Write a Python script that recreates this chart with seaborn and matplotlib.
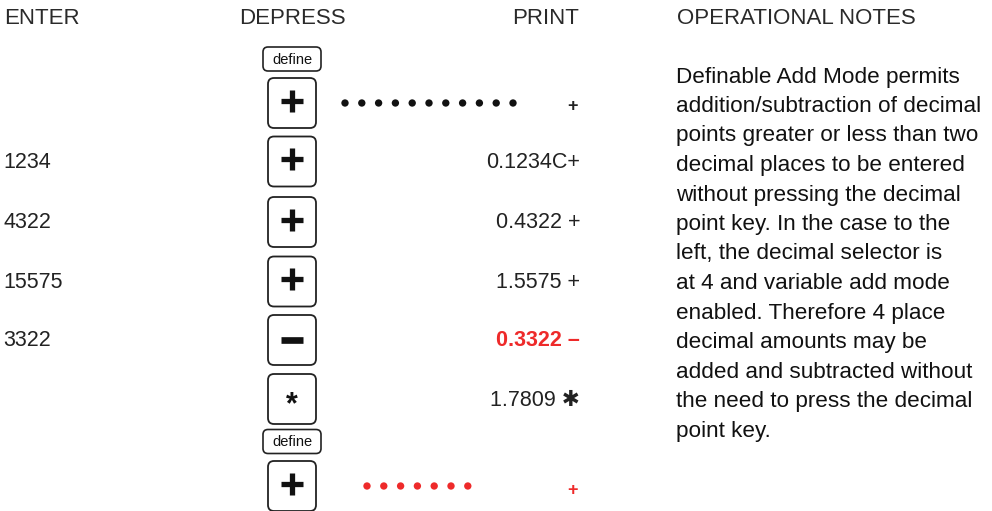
import matplotlib.pyplot as plt
from matplotlib.patches import FancyBboxPatch
import seaborn as sns
import pandas as pd

sns.set_theme(style="white")
plt.rcParams['font.family'] = ['Liberation Sans', 'DejaVu Sans']

RED = '#ee2a2a'

headers = ["ENTER", "DEPRESS", "PRINT", "OPERATIONAL NOTES"]
enter = ["", "1234", "4322", "15575", "3322", "", ""]
keys = ["+", "+", "+", "+", "-", "*", "+"]
define_before = [True, False, False, False, False, False, True]
prints = ["+", "0.1234C+", "0.4322 +", "1.5575 +", "0.3322 \u2013", "1.7809 \u2731", "+"]
print_red = [False, False, False, False, True, False, True]
dot_count = [11, 0, 0, 0, 0, 0, 7]
notes = [
    "Definable Add Mode permits",
    "addition/subtraction of decimal",
    "points greater or less than two",
    "decimal places to be entered",
    "without pressing the decimal",
    "point key. In the case to the",
    "left, the decimal selector is",
    "at 4 and variable add mode",
    "enabled. Therefore 4 place",
    "decimal amounts may be",
    "added and subtracted without",
    "the need to press the decimal",
    "point key.",
]

# layout (pixels)
row_y = [103, 161.5, 222, 281.5, 340, 399, 486]
define_y = [59, 441.5]
key_cx = 292

fig = plt.figure(figsize=(9.92, 5.11), dpi=100)
ax = fig.add_axes([0, 0, 1, 1])

# headers
hy = 18
hkw = dict(va='center', fontsize=16, color='#2a2a2a')
ax.text(4, hy, headers[0], ha='left', **hkw)
ax.text(key_cx, hy, headers[1], ha='center', **hkw)
ax.text(579, hy, headers[2], ha='right', **hkw)
ax.text(677, hy, headers[3], ha='left', **hkw)

# define keys
for dy in define_y:
    box = FancyBboxPatch((265, dy - 10), 54, 20, boxstyle="round,pad=2,rounding_size=5",
                         fc='white', ec='#222', lw=1.2)
    ax.add_patch(box)
    ax.text(key_cx, dy + 0.5, "define", ha='center', va='center', fontsize=10.5, color='#111')

dots = []
for i, y in enumerate(row_y):
    box = FancyBboxPatch((271, y - 22), 42, 44, boxstyle="round,pad=3,rounding_size=6",
                         fc='white', ec='#222', lw=1.3)
    ax.add_patch(box)
    k = keys[i]
    if k == "*":
        ax.text(key_cx, y + 6, k, ha='center', va='center', fontsize=22, fontweight='bold', color='#111')
    elif k == "+":
        ax.plot([key_cx - 11, key_cx + 11], [y - 2, y - 2], color='#111', lw=3.8, solid_capstyle='butt')
        ax.plot([key_cx, key_cx], [y - 13, y + 9], color='#111', lw=3.8, solid_capstyle='butt')
    else:
        ax.plot([key_cx - 11, key_cx + 11], [y, y], color='#111', lw=4.8, solid_capstyle='butt')

    if enter[i]:
        ax.text(3, y + 1, enter[i], ha='left', va='center', fontsize=15.5, color='#222')

    col = RED if print_red[i] else '#222'
    p = prints[i]
    if p == "+":
        ax.text(578, y + 4, p, ha='right', va='center', fontsize=13, fontweight='bold', color=col)
    elif print_red[i]:
        ax.text(580, y + 1, p, ha='right', va='center', fontsize=15.5, fontweight='bold', color=col)
    else:
        ax.text(580, y + 1, p, ha='right', va='center', fontsize=15.5, color=col)

    n = dot_count[i]
    start = 345 if i == 0 else 367
    for j in range(n):
        dots.append({'x': start + 16.8 * j, 'y': y, 'c': 'red' if print_red[i] else 'black'})

dot_df = pd.DataFrame(dots)
sns.scatterplot(data=dot_df, x='x', y='y', hue='c', palette={'black': '#111', 'red': RED},
                s=28, linewidth=0, legend=False, ax=ax)
ax.set_xlim(0, 992)
ax.set_ylim(511, 0)
ax.axis('off')

# notes
for j, line in enumerate(notes):
    ax.text(676, 77 + 29.5 * j, line, ha='left', va='center', fontsize=16.2, color='#111')

fig.savefig('out.png', dpi=100, facecolor='white')
